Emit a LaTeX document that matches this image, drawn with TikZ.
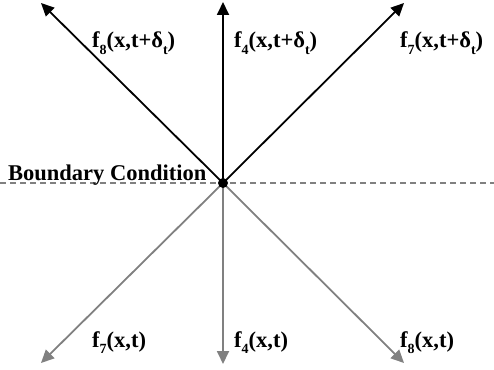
\documentclass[tikz,border=0pt]{standalone}
\usepackage{fontspec}
\setmainfont{Liberation Serif}
\usetikzlibrary{arrows.meta}
\newcommand\mysub[1]{\raisebox{-0.28em}{\fontsize{14}{14}\selectfont #1}}
\begin{document}
\begin{tikzpicture}[x=1pt,y=-1pt,
  uparrow/.style={draw=black, line width=1.8pt, -{Triangle[length=13pt,width=12pt]}},
  downarrow/.style={draw=black!50, line width=1.8pt, -{Triangle[length=13pt,width=12pt]}},
  lbl/.style={anchor=base west, inner sep=0pt, font=\fontsize{22.5}{26}\selectfont\bfseries},
  bline/.style={draw=black!50, line width=1.6pt, dash pattern=on 6pt off 4pt}]
\useasboundingbox (0,0) rectangle (494,369);
\coordinate (bl) at (0,183);
\coordinate (br) at (494,183);
\coordinate (cc) at (223,183);
\coordinate (ul) at (41,3);
\coordinate (uu) at (223,2);
\coordinate (ur) at (404,3);
\coordinate (dl) at (41,363);
\coordinate (dd) at (223,364);
\coordinate (dr) at (404,363);
\draw[bline] (bl) -- (br);
\draw[uparrow] (cc) -- (ul);
\draw[uparrow] (cc) -- (uu);
\draw[uparrow] (cc) -- (ur);
\draw[downarrow] (cc) -- (dl);
\draw[downarrow] (cc) -- (dd);
\draw[downarrow] (cc) -- (dr);
\node[circle, fill=black, inner sep=0pt, minimum size=10pt] (c) at (cc) {};
\node[lbl] (t8) at (92,48) {f\mysub{8}(x,t+δ\mysub{t})};
\node[lbl] (t4) at (234,48) {f\mysub{4}(x,t+δ\mysub{t})};
\node[lbl] (t7) at (400,48) {f\mysub{7}(x,t+δ\mysub{t})};
\node[lbl] (b7) at (92,347) {f\mysub{7}(x,t)};
\node[lbl] (b4) at (234,347) {f\mysub{4}(x,t)};
\node[lbl] (b8) at (400,347) {f\mysub{8}(x,t)};
\node[lbl] (bc) at (8,180) {Boundary Condition};
\end{tikzpicture}
\end{document}
